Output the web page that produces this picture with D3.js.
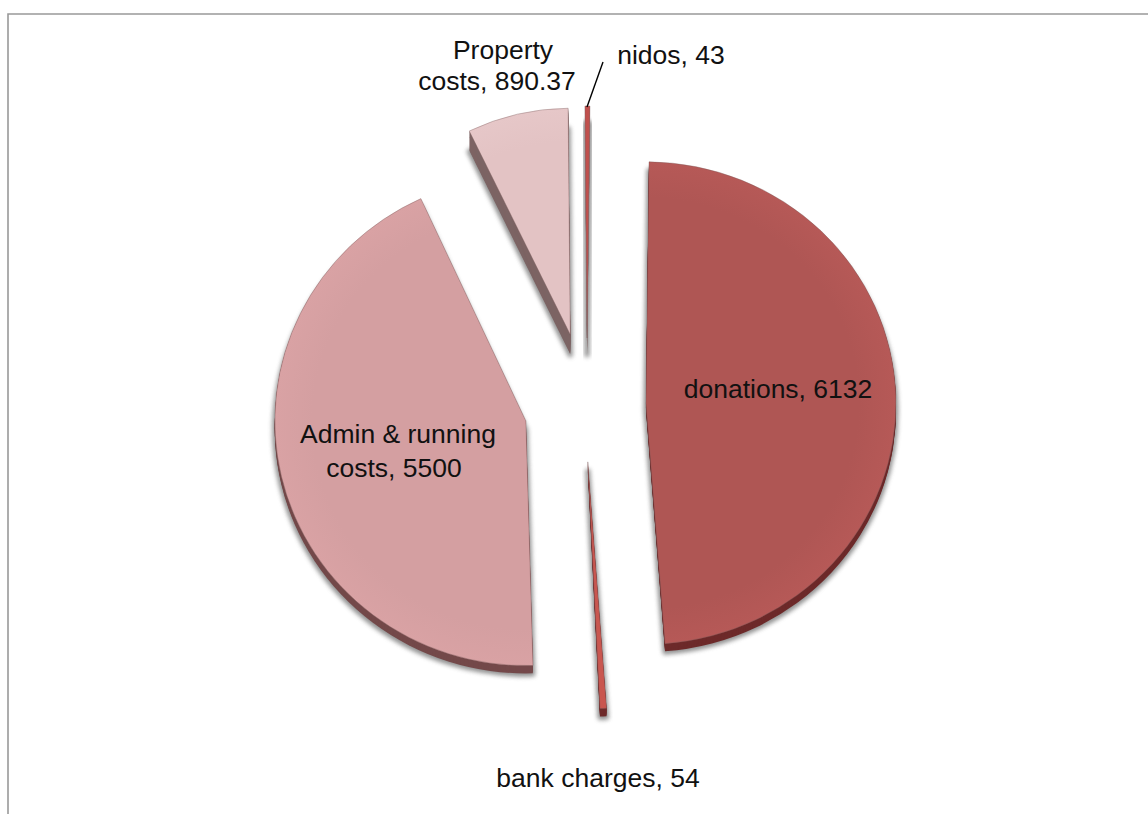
<!DOCTYPE html>
<html>
<head>
<meta charset="utf-8">
<script src="https://cdn.jsdelivr.net/npm/d3@7"></script>
<style>
  html, body { margin: 0; padding: 0; background: #fff; }
  svg { display: block; }
  text { font-family: "Liberation Sans", Arial, sans-serif; font-size: 26.5px; fill: #111; }
</style>
</head>
<body>
<div id="chart"></div>
<script>
// values, in drawing order (clockwise from the top)
const categories = ["donations", "bank charges", "Admin & running costs", "Property costs", "nidos"];
const values = [6132, 54, 5500, 890.37, 43];

const width = 1148, height = 814;
const cx = 585, cy = 402, explode = 60;

// how each slice sits: radius, y squash, nudge, small turn and depth of the 3D side
const look = [
  { fill: "#af5654", rim: "#b65957", side: "#6d2a2a", r: 250, sy: 0.965, nx: 1, ny: 3, rot: 0, depth: 8 },
  { fill: "#c9564f", rim: "#c9564f", side: "#6e2a2a", r: 247, sy: 1, nx: -1, ny: 0, rot: 0, depth: 8 },
  { fill: "#d49fa1", rim: "#d9a2a4", side: "#74494a", r: 251, sy: 0.975, nx: -1, ny: 4, rot: 1.2, depth: 8 },
  { fill: "#e3c3c4", rim: "#e6c7c8", side: "#7d6565", r: 231, sy: 0.98, nx: -1, ny: -9, rot: 0, depth: 20 },
  { fill: "#c0504d", rim: "#c0504d", side: "#8f8080", r: 232, sy: 1, nx: 2, ny: -4, rot: 0, depth: 16 }
];

const labels = [
  { lines: ["donations, 6132"], xs: [778], y: 398, gap: 0 },
  { lines: ["bank charges, 54"], xs: [598], y: 787, gap: 0 },
  { lines: ["Admin & running", "costs, 5500"], xs: [398, 394], y: 443, gap: 34 },
  { lines: ["Property", "costs, 890.37"], xs: [503, 497], y: 59, gap: 31 },
  { lines: ["nidos, 43"], xs: [671], y: 64, gap: 0 }
];

const svg = d3.select("#chart")
  .append("svg")
  .attr("width", width)
  .attr("height", height);

const defs = svg.append("defs");
defs.append("filter")
  .attr("id", "blur")
  .attr("x", "-30%").attr("y", "-30%").attr("width", "160%").attr("height", "160%")
  .append("feGaussianBlur")
  .attr("stdDeviation", 2.2);

look.forEach((d, i) => {
  const g = defs.append("radialGradient")
    .attr("id", `face${i}`)
    .attr("gradientUnits", "userSpaceOnUse")
    .attr("cx", 0).attr("cy", 0).attr("r", d.r);
  g.append("stop").attr("offset", 0.85).attr("stop-color", d.fill);
  g.append("stop").attr("offset", 1).attr("stop-color", d.rim);
});

// chart frame: only the top and left lines are in the crop
svg.append("path")
  .attr("d", d3.line()([[width, 14], [8, 14], [8, height]]))
  .attr("fill", "none")
  .attr("stroke", "#999")
  .attr("stroke-width", 1.6);

const start = 0.7 * Math.PI / 180;
const pie = d3.pie().sort(null)
  .startAngle(start)
  .endAngle(start + 2 * Math.PI);
const arcs = pie(values);
const arc = d3.arc().innerRadius(0);

const slices = svg.selectAll("g.slice")
  .data(arcs)
  .join("g")
  .attr("class", "slice")
  .attr("transform", (d, i) => {
    const mid = (d.startAngle + d.endAngle) / 2;
    const x = cx + explode * Math.sin(mid) + look[i].nx;
    const y = cy - explode * Math.cos(mid) + look[i].ny;
    return `translate(${x},${y}) scale(1,${look[i].sy}) rotate(${look[i].rot})`;
  });

// soft shadow under the back of the slice
slices.append("path")
  .attr("d", (d, i) => arc.outerRadius(look[i].r)(d))
  .attr("transform", (d, i) => `translate(0,${look[i].depth + 1})`)
  .attr("fill", "#666")
  .attr("stroke", "#666")
  .attr("stroke-width", 5)
  .attr("stroke-linejoin", "round")
  .attr("opacity", 0.7)
  .attr("filter", "url(#blur)");

// side of the slice: copies stacked from the back to the front
slices.each(function (d, i) {
  d3.select(this).selectAll("path.side")
    .data(d3.range(look[i].depth, 0, -1))
    .join("path")
    .attr("class", "side")
    .attr("d", arc.outerRadius(look[i].r)(d))
    .attr("transform", k => `translate(0,${k})`)
    .attr("fill", look[i].side);
});

slices.append("path")
  .attr("class", "face")
  .attr("d", (d, i) => arc.outerRadius(look[i].r)(d))
  .attr("fill", (d, i) => `url(#face${i})`)
  .attr("stroke", "#7a5a5a")
  .attr("stroke-opacity", 0.55)
  .attr("stroke-width", 0.7);

// leader line of the nidos label
svg.append("path")
  .attr("d", d3.line()([[603, 62], [587, 107]]))
  .attr("fill", "none")
  .attr("stroke", "#000")
  .attr("stroke-width", 1.4);

const text = svg.selectAll("text.label")
  .data(labels)
  .join("text")
  .attr("class", "label")
  .attr("text-anchor", "middle");

text.selectAll("tspan")
  .data(d => d.lines.map((line, i) => ({ line, x: d.xs[i], y: d.y + i * d.gap })))
  .join("tspan")
  .attr("x", d => d.x)
  .attr("y", d => d.y)
  .text(d => d.line);
</script>
</body>
</html>
